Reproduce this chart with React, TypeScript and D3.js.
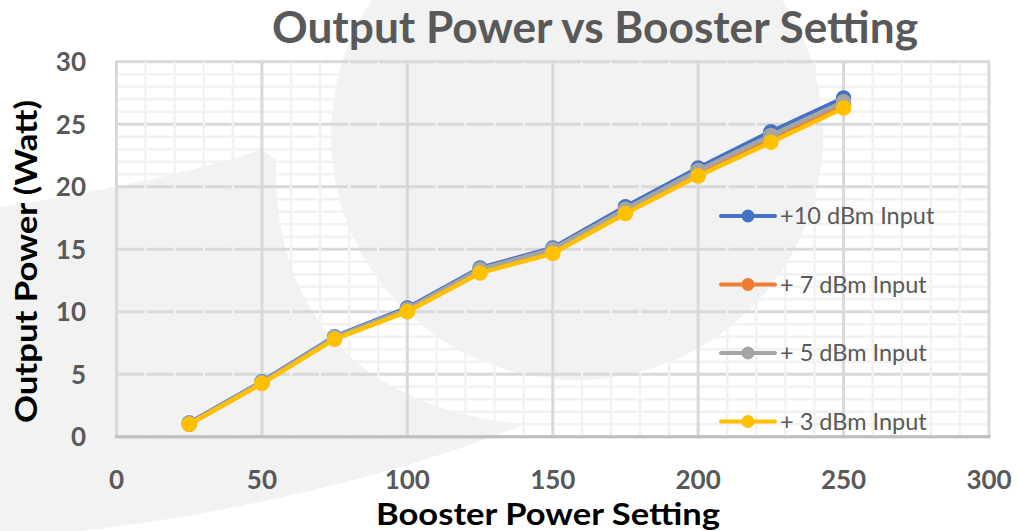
import React from 'react';
import * as d3 from 'd3';

// Booster power setting (x) and output power in watt (y) per input level
const boosterSettings = [25, 50, 75, 100, 125, 150, 175, 200, 225, 250];
const plus10dBm = [1.1, 4.4, 8.0, 10.3, 13.5, 15.1, 18.4, 21.5, 24.4, 27.1];
const plus7dBm = [1.0, 4.3, 7.9, 10.1, 13.3, 14.9, 18.1, 21.1, 23.9, 26.6];
const plus5dBm = [1.05, 4.35, 7.95, 10.2, 13.4, 15.0, 18.2, 21.3, 24.1, 26.8];
const plus3dBm = [1.0, 4.25, 7.8, 10.0, 13.1, 14.65, 17.85, 20.85, 23.55, 26.3];

const seriesNames = ['+10 dBm Input', '+ 7 dBm Input', '+ 5 dBm Input', '+ 3 dBm Input'];
const seriesColors = ['#4472C4', '#ED7D31', '#A5A5A5', '#FFC000'];
const seriesValues = [plus10dBm, plus7dBm, plus5dBm, plus3dBm];

const xTicks = [0, 50, 100, 150, 200, 250, 300];
const yTicks = [0, 5, 10, 15, 20, 25, 30];

const W = 1018;
const H = 531;
const FONT = 'Lato, "Open Sans", sans-serif';

const App: React.FC = () => {
  const x = d3.scaleLinear().domain([0, 300]).range([116.5, 989]);
  const y = d3.scaleLinear().domain([0, 30]).range([436.7, 61.7]);

  const minorX = d3.range(0, 301, 10).filter(v => v % 50 !== 0);
  const minorY = d3.range(0, 31, 1).filter(v => v % 5 !== 0);

  const line = d3.line<number>()
    .x((_, i) => x(boosterSettings[i]))
    .y(d => y(d));

  const legendY = d3.scalePoint<string>().domain(seriesNames).range([216, 421.5]);

  const [x0, x1] = x.range();
  const [y0, y1] = y.range();

  return (
    <svg width={W} height={H} style={{ position: 'absolute', left: 0, top: 0, background: '#fff' }}>
      {/* faint background logo */}
      <g fill="#f2f2f2">
        <ellipse cx={577} cy={135} rx={246} ry={245} />
        <path d="M 0 207 Q 150 185 262 150 L 276 160 C 272 330 380 412 525 424 C 400 475 200 525 0 538 Z" />
      </g>

      {/* grid */}
      <g>
        {minorY.map(v => (
          <line key={'my' + v} x1={x0} x2={x1} y1={y(v)} y2={y(v)} stroke="#f2f2f2" strokeWidth={2.5} />
        ))}
        {yTicks.map(v => (
          <line key={'My' + v} x1={x0} x2={x1} y1={y(v)} y2={y(v)} stroke="#d9d9d9" strokeWidth={3} />
        ))}
        {minorX.map(v => (
          <line key={'mx' + v} x1={x(v)} x2={x(v)} y1={y0} y2={y1} stroke="#f2f2f2" strokeWidth={2.5} />
        ))}
        {xTicks.map(v => (
          <line key={'Mx' + v} x1={x(v)} x2={x(v)} y1={y0} y2={y1 - 1.5} stroke="#d9d9d9" strokeWidth={3} />
        ))}
        <line x1={x0 - 1.5} x2={x1 + 1.5} y1={y0} y2={y0} stroke="#bfbfbf" strokeWidth={3} />
      </g>

      {/* series */}
      {seriesValues.map((vals, si) => (
        <g key={seriesNames[si]}>
          <path d={line(vals) || ''} fill="none" stroke={seriesColors[si]} strokeWidth={4.5}
            strokeLinejoin="round" strokeLinecap="round" />
          {vals.map((v, i) => (
            <circle key={i} cx={x(boosterSettings[i])} cy={y(v)} r={7}
              fill={seriesColors[si]} stroke={seriesColors[si]} strokeWidth={1.5} />
          ))}
        </g>
      ))}

      {/* y tick labels */}
      {yTicks.map(v => (
        <text key={'yt' + v} x={86} y={y(v)} dy="0.36em" textAnchor="end"
          fontFamily={FONT} fontWeight={700} fontSize={26} fill="#595959">{v}</text>
      ))}
      {/* x tick labels */}
      {xTicks.map(v => (
        <text key={'xt' + v} x={x(v)} y={489} textAnchor="middle"
          fontFamily={FONT} fontWeight={700} fontSize={26} fill="#595959">{v}</text>
      ))}

      {/* legend */}
      {seriesNames.map((name, si) => {
        const ly = legendY(name) || 0;
        return (
          <g key={'lg' + name}>
            <line x1={721} x2={775} y1={ly} y2={ly} stroke={seriesColors[si]} strokeWidth={4} strokeLinecap="round" />
            <circle cx={748} cy={ly} r={6.5} fill={seriesColors[si]} />
            <text x={780} y={ly} dy="0.36em" fontFamily={FONT} fontSize={23.5} fill="#595959">{name}</text>
          </g>
        );
      })}

      {/* titles */}
      <text x={595} y={43} textAnchor="middle" fontFamily={FONT} fontWeight={700} fontSize={43}
        fill="#595959" textLength={646} lengthAdjust="spacingAndGlyphs">Output Power vs Booster Setting</text>
      <text x={548} y={525} textAnchor="middle" fontFamily={FONT} fontWeight={700} fontSize={31}
        fill="#000" textLength={344} lengthAdjust="spacingAndGlyphs">Booster Power Setting</text>
      <text transform="translate(37,261.5) rotate(-90)" textAnchor="middle" fontFamily={FONT} fontWeight={700}
        fontSize={31} fill="#000" textLength={323} lengthAdjust="spacingAndGlyphs">Output Power (Watt)</text>
    </svg>
  );
};

export default App;
